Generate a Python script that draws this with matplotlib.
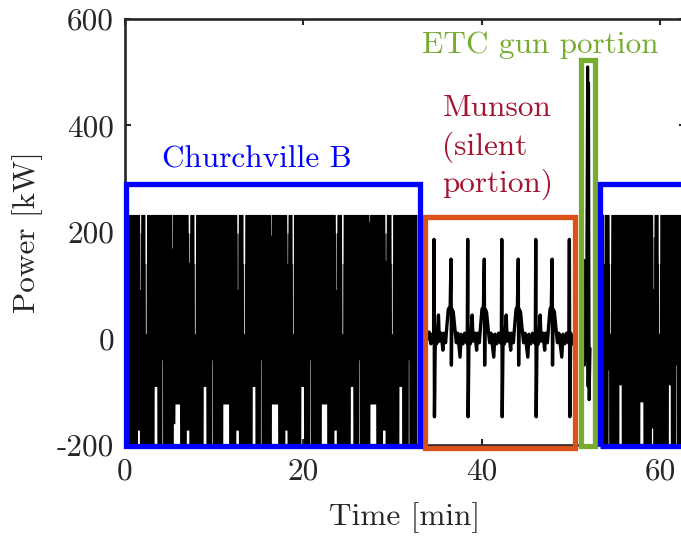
import numpy as np
import matplotlib
matplotlib.use("Agg")
import matplotlib.pyplot as plt
from matplotlib.patches import Rectangle


# ==============================
# DATA
# ==============================
# Churchville B: dense signal, drawn as its envelope
cb_spans = [(0.3, 32.75), (53.55, 62.8)]
cb_top = 233
cb_bottom = -210

# white gaps at the bottom of the black band: (start, end, lowest value reached)
cb_low_gaps = [
    (1.40, 1.62, -172), (3.27, 3.57, -90), (4.15, 4.21, -40),
    (5.42, 5.60, -160), (5.60, 6.12, -123), (6.88, 7.16, -172),
    (8.77, 9.07, -90), (9.72, 9.78, -40), (10.97, 11.62, -123),
    (12.43, 12.72, -172), (14.27, 14.57, -90), (15.19, 15.25, -40),
    (16.42, 17.12, -123), (17.93, 18.17, -172), (19.72, 20.02, -90),
    (20.72, 20.78, -40), (22.02, 22.62, -123), (23.43, 23.70, -172),
    (25.27, 25.55, -90), (26.22, 26.28, -40), (27.47, 28.12, -123),
    (28.88, 29.17, -172), (30.72, 31.02, -90), (31.77, 31.83, -40),
    (54.17, 54.23, -59), (55.38, 55.64, -87), (57.73, 58.07, -119),
    (59.03, 59.17, -168), (60.93, 61.14, -87), (61.77, 61.83, -50),
]

# white dips from the top of the black band: (start, end, highest value reached)
cb_high_dips = [
    (1.64, 1.76, 198), (1.67, 1.73, 92), (2.24, 2.41, 141), (2.28, 2.37, 9),
    (5.27, 5.33, 170), (7.09, 7.26, 198), (7.14, 7.21, 143),
    (7.74, 7.91, 141), (7.78, 7.87, 9), (12.54, 12.71, 198), (12.59, 12.65, 92),
    (13.24, 13.43, 141), (13.29, 13.38, 9), (16.32, 16.38, 194),
    (18.14, 18.28, 198), (18.18, 18.24, 141), (18.74, 18.89, 141), (18.78, 18.86, 9),
    (23.59, 23.76, 198), (23.64, 23.70, 92), (24.29, 24.46, 141), (24.33, 24.42, 9),
    (27.37, 27.43, 219), (29.14, 29.31, 198), (29.19, 29.25, 147),
    (29.84, 30.01, 141), (29.88, 29.97, 9),
    (53.67, 53.73, 141), (54.29, 54.46, 141), (54.33, 54.42, 10),
    (59.17, 59.31, 191), (59.21, 59.27, 94), (59.79, 59.96, 141), (59.83, 59.92, 10),
]

# Munson (silent portion)
mun_t = [33.90, 34.10, 34.30, 34.45,
         34.60, 34.65, 34.70, 34.80, 34.95, 35.15, 35.25, 35.45, 35.65, 35.75, 35.95,
         36.10, 36.25, 36.46, 36.56, 36.60, 36.66, 36.81, 37.01, 37.16, 37.31,
         37.57, 37.70, 37.90, 38.10, 38.30,
         38.38, 38.43, 38.48, 38.58, 38.73, 38.93, 39.03, 39.23, 39.43, 39.53, 39.73,
         39.88, 40.03, 40.19, 40.29, 40.33, 40.39, 40.54, 40.74, 40.89, 41.04,
         41.35, 41.48, 41.68, 41.88, 42.08,
         42.20, 42.25, 42.30, 42.40, 42.55, 42.75, 42.85, 43.05, 43.25, 43.35, 43.55,
         43.70, 43.85, 44.00, 44.10, 44.14, 44.20, 44.35, 44.55, 44.70, 44.85,
         45.17, 45.30, 45.50, 45.70, 45.90,
         46.01, 46.06, 46.11, 46.21, 46.36, 46.56, 46.66, 46.86, 47.06, 47.16, 47.36,
         47.51, 47.66, 47.80, 47.90, 47.94, 48.00, 48.15, 48.35, 48.50, 48.65,
         48.98, 49.11, 49.31, 49.51, 49.71,
         49.78, 49.83, 49.88, 49.98, 50.13, 50.25]
mun_p = [0, 12, -10, 8,
         -5, 186, -147, 10, -10, 44, -5, 10, -22, 10, -8,
         25, 55, 60, 149, -50, 55, 50, 15, -8, 10,
         -35, 8, -10, 10, -8,
         -5, 186, -147, 10, -10, 44, -5, 10, -22, 10, -8,
         25, 55, 60, 149, -50, 55, 50, 15, -8, 10,
         -35, 8, -10, 10, -8,
         -5, 186, -147, 10, -10, 44, -5, 10, -22, 10, -8,
         25, 55, 60, 149, -50, 55, 50, 15, -8, 10,
         -35, 8, -10, 10, -8,
         -5, 186, -147, 10, -10, 44, -5, 10, -22, 10, -8,
         25, 55, 60, 149, -50, 55, 50, 15, -8, 10,
         -35, 8, -10, 10, -8,
         -5, 186, -147, 10, -10, 0]

# ETC gun portion
etc_t = [51.38, 51.45, 51.50, 51.55, 51.60, 51.65, 51.75, 51.88, 51.93, 51.98, 52.05, 52.15]
etc_p = [0, 147, -50, 130, -40, 100, 0, 510, -90, 480, -115, -20]

# boxes: (x0, x1, y0, y1)
box_cb1 = (0.15, 33.1, -202, 290)
box_mun = (33.65, 50.5, -205, 229)
box_etc = (51.1, 52.7, -202, 523)
box_cb2 = (53.3, 64.0, -202, 291)

c_blue = "#0000FF"
c_orange = "#D95319"
c_green = "#77AC30"
c_red = "#A2142F"
c_axes = "#262626"


# ==============================
# FIGURE
# ==============================
plt.rcParams["font.family"] = "cmr10"
plt.rcParams["axes.unicode_minus"] = False
plt.rcParams["font.size"] = 22.5

fig = plt.figure(figsize=(6.81, 5.39), dpi=100)
ax = fig.add_axes([0.1836, 0.1744, 0.8223, 0.7904])

# Churchville B envelope
for a, b in cb_spans:
    t = np.arange(a, b, 0.01)
    hi = np.full_like(t, cb_top)
    lo = np.full_like(t, cb_bottom)
    for s, e, lev in cb_low_gaps:
        m = (t >= s) & (t <= e)
        lo[m] = np.maximum(lo[m], lev)
    for s, e, lev in cb_high_dips:
        m = (t >= s) & (t <= e)
        hi[m] = np.minimum(hi[m], lev)
    ax.fill_between(t, lo, hi, color="k", lw=0, zorder=2)

ax.plot(mun_t, mun_p, color="k", lw=2.4, zorder=2)
ax.plot(etc_t, etc_p, color="k", lw=2.2, zorder=2)

# boxes
for box, col in [(box_mun, c_orange), (box_cb1, c_blue), (box_etc, c_green), (box_cb2, c_blue)]:
    x0, x1, y0, y1 = box
    ax.add_patch(Rectangle((x0, y0), x1 - x0, y1 - y0, fill=False, ec=col,
                           lw=3.8, clip_on=False, zorder=4, joinstyle="miter"))

# labels on the boxes
ax.text(4.15, 322, "Churchville B", color=c_blue, va="baseline", ha="left")
ax.text(33.35, 536, "ETC gun portion", color=c_green, va="baseline", ha="left")
for line, yb in zip(["Munson", "(silent", "portion)"], [418, 345, 275]):
    ax.text(35.6, yb, line, color=c_red, va="baseline", ha="left")

ax.set_xlim(0, 62.8)
ax.set_ylim(-200, 600)
ax.set_xticks([0, 20, 40, 60])
ax.set_yticks([-200, 0, 200, 400, 600])
ax.set_yticklabels(["-200", "0", "200", "400", "600"])
ax.tick_params(direction="in", top=True, right=True, length=4.5, width=1.5,
               colors=c_axes)
ax.tick_params(axis="x", pad=9)
ax.tick_params(axis="y", pad=8)
for sp in ax.spines.values():
    sp.set_linewidth(1.9)
    sp.set_color(c_axes)

ax.set_xlabel("Time [min]", color=c_axes, labelpad=12)
ax.set_ylabel("Power [kW]", color=c_axes, labelpad=10)

fig.savefig("out.png", dpi=100)
